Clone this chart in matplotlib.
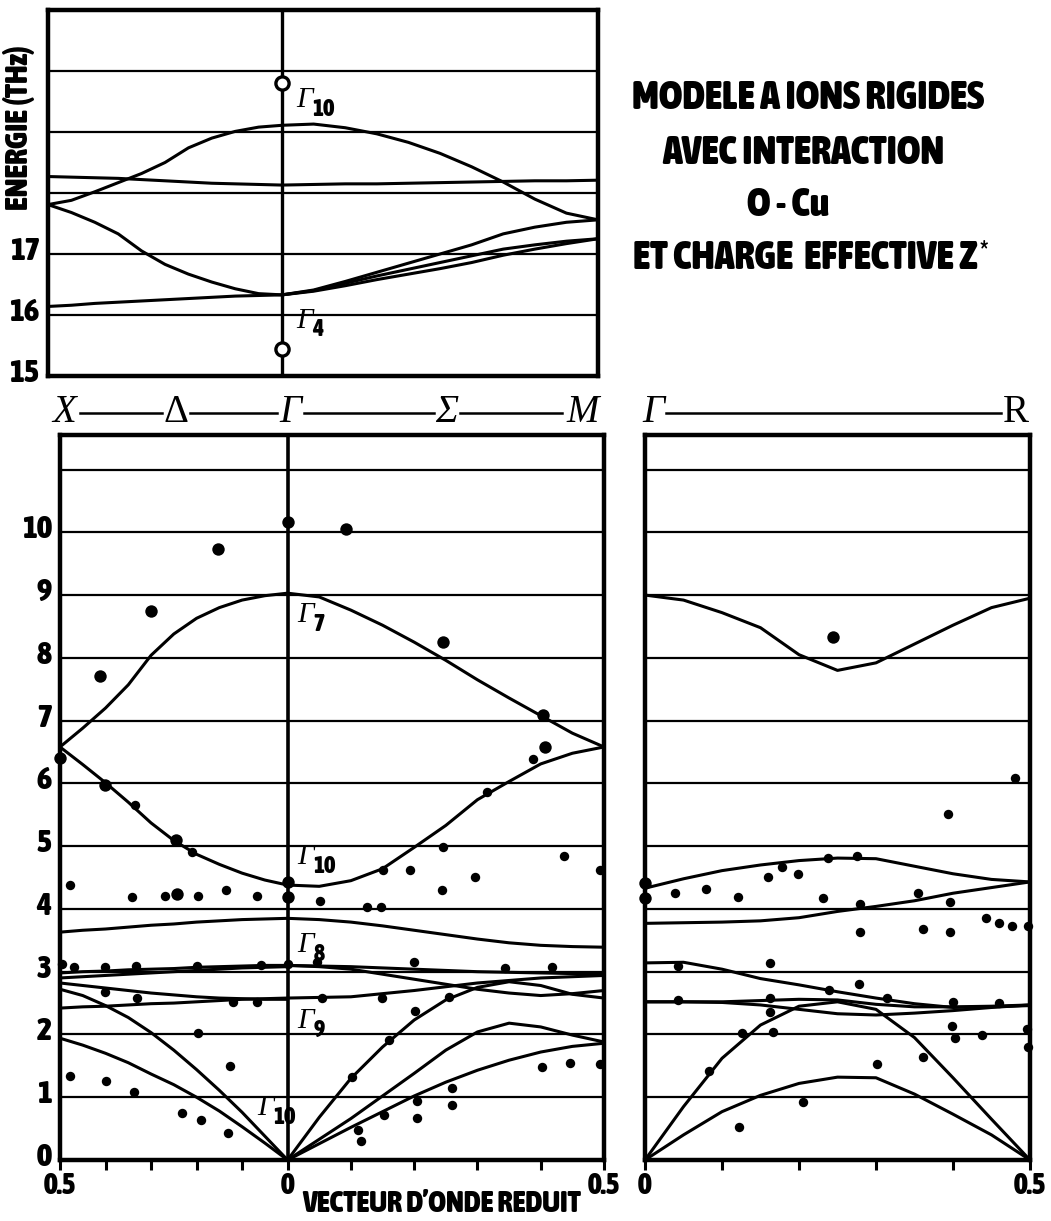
import matplotlib
matplotlib.use('Agg')
import matplotlib.pyplot as plt
from matplotlib import font_manager
from matplotlib.font_manager import FontProperties
from matplotlib.lines import Line2D
from matplotlib.transforms import ScaledTranslation

W, H = 1051, 1221

# reduced wave vector grid (0 = Gamma, 0.5 = zone boundary)
Q = [0.0, 0.05, 0.10, 0.15, 0.20, 0.25, 0.30, 0.35, 0.40, 0.45, 0.50]

# ---- top panel, 15-21 THz -------------------------------------------
top_delta_1 = [19.11, 19.08, 19.01, 18.90, 18.74, 18.50, 18.32, 18.17, 18.02, 17.88, 17.81]
top_delta_2 = [18.13, 18.14, 18.15, 18.16, 18.18, 18.20, 18.22, 18.24, 18.25, 18.26, 18.27]
top_delta_3 = [16.33, 16.35, 16.43, 16.54, 16.67, 16.83, 17.05, 17.33, 17.52, 17.68, 17.81]
top_delta_4 = [16.33, 16.32, 16.31, 16.29, 16.27, 16.25, 16.23, 16.21, 16.19, 16.16, 16.14]
top_sigma_1 = [19.11, 19.13, 19.07, 18.97, 18.83, 18.65, 18.43, 18.18, 17.90, 17.67, 17.56]
top_sigma_2 = [18.13, 18.14, 18.15, 18.15, 18.16, 18.17, 18.18, 18.19, 18.20, 18.20, 18.21]
top_sigma_3 = [16.33, 16.41, 16.55, 16.70, 16.85, 17.00, 17.15, 17.33, 17.44, 17.52, 17.56]
top_sigma_4 = [16.33, 16.40, 16.52, 16.64, 16.75, 16.86, 16.97, 17.08, 17.15, 17.21, 17.25]
top_sigma_5 = [16.33, 16.39, 16.48, 16.58, 16.67, 16.76, 16.86, 16.98, 17.08, 17.17, 17.25]
top_gamma_modes = [19.80, 15.45]          # open circles, Gamma10 and Gamma4

# ---- bottom left panel: X - Delta - Gamma - Sigma - M ---------------
delta_a = [9.03, 8.99, 8.92, 8.80, 8.63, 8.38, 8.04, 7.57, 7.20, 6.88, 6.58]
delta_b = [4.38, 4.46, 4.57, 4.71, 4.87, 5.09, 5.37, 5.70, 6.01, 6.30, 6.58]
delta_c = [3.85, 3.84, 3.83, 3.81, 3.79, 3.76, 3.74, 3.71, 3.68, 3.66, 3.63]
delta_d1 = [3.10, 3.10, 3.09, 3.08, 3.07, 3.05, 3.04, 3.03, 3.01, 3.00, 2.98]
delta_d2 = [3.08, 3.07, 3.06, 3.04, 3.02, 3.00, 2.98, 2.96, 2.94, 2.92, 2.90]
delta_d3 = [2.56, 2.56, 2.57, 2.58, 2.60, 2.63, 2.66, 2.70, 2.74, 2.78, 2.82]
delta_d4 = [2.58, 2.57, 2.56, 2.54, 2.52, 2.50, 2.49, 2.47, 2.45, 2.44, 2.42]
delta_la = [0.00, 0.38, 0.76, 1.11, 1.44, 1.75, 2.03, 2.27, 2.46, 2.62, 2.72]
delta_ta = [0.00, 0.27, 0.53, 0.78, 1.00, 1.20, 1.37, 1.55, 1.70, 1.83, 1.94]

sigma_a = [9.03, 8.97, 8.76, 8.52, 8.25, 7.96, 7.65, 7.36, 7.08, 6.80, 6.58]
sigma_b = [4.38, 4.36, 4.45, 4.64, 4.98, 5.33, 5.74, 6.03, 6.31, 6.48, 6.58]
sigma_c = [3.85, 3.83, 3.79, 3.73, 3.66, 3.59, 3.52, 3.46, 3.42, 3.40, 3.39]
sigma_s1 = [3.10, 3.09, 3.08, 3.06, 3.04, 3.02, 3.00, 2.99, 2.98, 2.97, 2.96]
sigma_s2 = [3.10, 3.08, 3.04, 2.96, 2.88, 2.80, 2.72, 2.66, 2.62, 2.65, 2.70]
sigma_s3 = [2.58, 2.59, 2.60, 2.65, 2.70, 2.76, 2.82, 2.86, 2.90, 2.92, 2.94]
sigma_s4 = [0.00, 0.68, 1.30, 1.80, 2.23, 2.55, 2.75, 2.84, 2.78, 2.64, 2.58]
sigma_s5 = [0.00, 0.33, 0.66, 1.02, 1.38, 1.75, 2.04, 2.18, 2.12, 1.99, 1.88]
sigma_s6 = [0.00, 0.26, 0.52, 0.77, 1.02, 1.24, 1.43, 1.59, 1.72, 1.81, 1.86]

# measured points (q, energy)
delta_big_q = [0.0, 0.154, 0.301, 0.413, 0.5, 0.402, 0.246, 0.244, 0.0, 0.0]
delta_big_e = [10.16, 9.73, 8.74, 7.71, 6.40, 5.97, 5.10, 4.24, 4.43, 4.19]
sigma_big_q = [0.093, 0.245, 0.404, 0.406]
sigma_big_e = [10.06, 8.25, 7.09, 6.58]
delta_small_q = [0.336, 0.209, 0.479, 0.341, 0.270, 0.196, 0.136, 0.068, 0.495, 0.470,
                 0.402, 0.332, 0.200, 0.059, 0.0, 0.402, 0.330, 0.121, 0.068, 0.196,
                 0.127, 0.477, 0.400, 0.338, 0.233, 0.191, 0.130]
delta_small_e = [5.65, 4.90, 4.38, 4.19, 4.20, 4.20, 4.30, 4.20, 3.13, 3.07,
                 3.07, 3.09, 3.09, 3.10, 3.13, 2.68, 2.58, 2.52, 2.52, 2.02,
                 1.50, 1.34, 1.26, 1.08, 0.75, 0.63, 0.43]
sigma_small_q = [0.051, 0.315, 0.388, 0.245, 0.437, 0.494, 0.150, 0.193, 0.296, 0.244,
                 0.125, 0.147, 0.046, 0.199, 0.343, 0.418, 0.055, 0.149, 0.255, 0.201,
                 0.161, 0.101, 0.402, 0.446, 0.494, 0.259, 0.259, 0.204, 0.204, 0.153,
                 0.111, 0.116]
sigma_small_e = [4.12, 5.86, 6.39, 4.98, 4.84, 4.62, 4.62, 4.62, 4.51, 4.30,
                 4.03, 4.03, 3.16, 3.16, 3.06, 3.07, 2.58, 2.58, 2.60, 2.37,
                 1.91, 1.32, 1.48, 1.55, 1.53, 1.15, 0.88, 0.94, 0.67, 0.72,
                 0.48, 0.30]

# ---- bottom right panel: Gamma - R -----------------------------------
gr_a = [9.00, 8.92, 8.72, 8.48, 8.05, 7.80, 7.92, 8.22, 8.52, 8.80, 8.95]
gr_1 = [4.33, 4.48, 4.61, 4.70, 4.77, 4.81, 4.80, 4.68, 4.56, 4.47, 4.43]
gr_2 = [3.77, 3.78, 3.79, 3.81, 3.86, 3.96, 4.04, 4.13, 4.25, 4.34, 4.43]
gr_3 = [3.14, 3.15, 3.04, 2.89, 2.79, 2.68, 2.58, 2.49, 2.43, 2.44, 2.46]
gr_4 = [2.52, 2.52, 2.51, 2.47, 2.40, 2.33, 2.31, 2.34, 2.38, 2.43, 2.47]
gr_5 = [2.52, 2.52, 2.52, 2.54, 2.56, 2.55, 2.48, 2.44, 2.44, 2.45, 2.47]
gr_6 = [0.00, 0.85, 1.62, 2.15, 2.45, 2.52, 2.40, 1.95, 1.31, 0.65, 0.00]
gr_7 = [0.00, 0.40, 0.77, 1.03, 1.22, 1.32, 1.31, 1.05, 0.73, 0.40, 0.00]

gr_big_q = [0.0, 0.0, 0.244]
gr_big_e = [4.41, 4.17, 8.33]
gr_small_q = [0.481, 0.394, 0.039, 0.079, 0.121, 0.160, 0.178, 0.199, 0.231, 0.238,
              0.275, 0.279, 0.355, 0.396, 0.279, 0.361, 0.396, 0.443, 0.460, 0.477,
              0.497, 0.043, 0.162, 0.278, 0.239, 0.314, 0.400, 0.460, 0.043, 0.162,
              0.162, 0.126, 0.166, 0.399, 0.403, 0.438, 0.496, 0.497, 0.083, 0.301,
              0.361, 0.205, 0.122]
gr_small_e = [6.08, 5.52, 4.25, 4.32, 4.19, 4.51, 4.67, 4.55, 4.17, 4.81,
              4.84, 4.08, 4.25, 4.11, 3.63, 3.68, 3.63, 3.85, 3.77, 3.73,
              3.73, 3.09, 3.14, 2.80, 2.71, 2.58, 2.52, 2.50, 2.55, 2.58,
              2.36, 2.02, 2.04, 2.13, 1.94, 1.99, 2.09, 1.80, 1.42, 1.53,
              1.64, 0.92, 0.53]

title_lines = ['MODELE A IONS RIGIDES', 'AVEC INTERACTION', 'O - Cu',
               'ET CHARGE  EFFECTIVE Z']

# Sigma direction drawn longer than Delta (sqrt(2)-ish in the original)
SIG = 1.39
SIG_TOP = 1.35

SERIF = 'Liberation Serif'

LW = 2.2
BIG, SMALL = 80, 46


def _weight(f):
    w = f.weight
    if isinstance(w, str):
        w = font_manager.weight_dict.get(w, 400)
    return w


def find_heavy_font():
    """Look for a heavy condensed face (not the extra-condensed cuts)."""
    best, best_score = None, -1
    for f in font_manager.fontManager.ttflist:
        if f.style != 'normal':
            continue
        key = (f.name + ' ' + f.fname.split('/')[-1]).lower().replace(' ', '').replace('_', '').replace('-', '')
        narrow = f.stretch in ('condensed', 'semi-condensed', 'extra-condensed',
                               'ultra-condensed') or 'narrow' in key or 'cond' in key
        if not narrow:
            continue
        score = _weight(f)
        if 'extracond' in key or 'ultracond' in key:
            score -= 350
        elif 'semicond' in key:
            score -= 150
        if score > best_score:
            best, best_score = f.fname, score
    return best


HEAVY_FILE = find_heavy_font()


def heavy(size):
    if HEAVY_FILE:
        fp = FontProperties(fname=HEAVY_FILE)
        fp.set_size(size)
        return fp
    return FontProperties(family='DejaVu Sans', weight='bold', size=size)


def fpos(x, y):
    return x / W, 1 - y / H


def fit(fig, t, target, max_size, along='w'):
    r = fig.canvas.get_renderer()
    bb = t.get_window_extent(r)
    cur = bb.width if along == 'w' else bb.height
    t.set_fontsize(min(max_size, t.get_fontsize() * target / cur))
    return t.get_fontsize()


def frame(ax):
    for sp in ax.spines.values():
        sp.set_linewidth(3.2)
    ax.yaxis.grid(True, color='black', lw=1.6)
    ax.set_axisbelow(True)
    ax.tick_params(axis='y', length=0, pad=6)
    for lab in ax.get_yticklabels():
        lab.set_fontproperties(heavy(23))
        lab.set_transform(lab.get_transform() + ScaledTranslation(0, 0.06, ax.figure.dpi_scale_trans))


def branch(ax, e_delta=None, e_sigma=None, scale=1.0):
    kw = dict(color='black', lw=LW, solid_capstyle='round', solid_joinstyle='round', zorder=3)
    if e_delta is not None:
        ax.plot([-q for q in Q], e_delta, **kw)
    if e_sigma is not None:
        ax.plot([q * scale for q in Q], e_sigma, **kw)


def dots(ax, qs, es, s, sign=1.0):
    ax.scatter([sign * q for q in qs], es, s=s, c='black', lw=0, zorder=4, clip_on=False)


def gamma_label(ax, sub, y, dx, dy):
    """Italic Gamma with a bold sans subscript, placed relative to (0, y)."""
    ax.annotate('Γ', xy=(0, y), xytext=(dx, dy), textcoords='offset pixels',
                ha='left', va='center', fontsize=21, fontfamily=SERIF, style='italic', zorder=5)
    ax.annotate(sub, xy=(0, y), xytext=(dx + 16, dy - 9), textcoords='offset pixels',
                ha='left', va='center', fontproperties=heavy(17), zorder=5)


def main():
    fig = plt.figure(figsize=(W / 100, H / 100), dpi=100)

    # ---------------- top panel ----------------
    ax_top = fig.add_axes([48 / W, 1 - 376 / H, 550 / W, 366 / H])
    ax_top.set_xlim(-0.5, 0.5 * SIG_TOP)
    ax_top.set_ylim(15, 21)
    ax_top.set_yticks([15, 16, 17, 18, 19, 20], ['15', '16', '17', '', '', ''])
    ax_top.set_xticks([])
    frame(ax_top)
    ax_top.axvline(0, color='black', lw=2.4, zorder=3)
    for ed, es in [(top_delta_1, top_sigma_1), (top_delta_2, top_sigma_2),
                   (top_delta_3, top_sigma_3), (top_delta_4, None)]:
        branch(ax_top, ed, es, SIG_TOP)
    branch(ax_top, None, top_sigma_4, SIG_TOP)
    branch(ax_top, None, top_sigma_5, SIG_TOP)
    ax_top.plot([0] * len(top_gamma_modes), top_gamma_modes, 'o', ms=9.5, mfc='white',
                mec='black', mew=2.4, zorder=5)
    gamma_label(ax_top, '10', top_gamma_modes[0], 14, -17)
    gamma_label(ax_top, '4', top_gamma_modes[1], 14, 28)

    # ---------------- bottom left panel ----------------
    ax_l = fig.add_axes([60 / W, 1 - 1160 / H, 544 / W, 725 / H])
    ax_l.set_xlim(-0.5, 0.5 * SIG)
    ax_l.set_ylim(0, 11.55)
    ax_l.set_yticks(range(12), [str(i) for i in range(11)] + [''])
    frame(ax_l)
    ax_l.axvline(0, color='black', lw=2.6, zorder=3)
    xt = [-0.5, -0.4, -0.3, -0.2, -0.1, 0.0] + [q * SIG for q in (0.1, 0.2, 0.3, 0.4, 0.5)]
    ax_l.set_xticks(xt, ['0.5', '', '', '', '', '0', '', '', '', '', '0.5'])

    for ed, es in [(delta_a, sigma_a), (delta_b, sigma_b), (delta_c, sigma_c),
                   (delta_d1, sigma_s1), (delta_d2, sigma_s2), (delta_d3, sigma_s3),
                   (delta_d4, None), (delta_la, sigma_s4), (delta_ta, sigma_s5)]:
        branch(ax_l, ed, es, SIG)
    branch(ax_l, None, sigma_s6, SIG)

    dots(ax_l, delta_big_q, delta_big_e, BIG, -1)
    dots(ax_l, delta_small_q, delta_small_e, SMALL, -1)
    dots(ax_l, sigma_big_q, sigma_big_e, BIG, SIG)
    dots(ax_l, sigma_small_q, sigma_small_e, SMALL, SIG)

    gamma_label(ax_l, '7', delta_a[0], 10, -22)
    gamma_label(ax_l, '10', delta_b[0], 10, 28)
    gamma_label(ax_l, '8', delta_c[0], 10, -27)
    gamma_label(ax_l, '9', delta_d4[0], 10, -23)
    gamma_label(ax_l, '10', 0, -30, 52)

    # ---------------- bottom right panel ----------------
    ax_r = fig.add_axes([645 / W, 1 - 1160 / H, 385 / W, 725 / H])
    ax_r.set_xlim(0, 0.5)
    ax_r.set_ylim(0, 11.55)
    ax_r.set_yticks(range(12), [''] * 12)
    frame(ax_r)
    ax_r.set_xticks([0, 0.1, 0.2, 0.3, 0.4, 0.5], ['0', '', '', '', '', '0.5'])
    for e in (gr_a, gr_1, gr_2, gr_3, gr_4, gr_5, gr_6, gr_7):
        branch(ax_r, None, e, 1.0)
    dots(ax_r, gr_big_q, gr_big_e, BIG)
    dots(ax_r, gr_small_q, gr_small_e, SMALL)

    for ax in (ax_l, ax_r):
        ax.tick_params(axis='x', direction='out', length=7, width=2.2, pad=1)
        for lab in ax.get_xticklabels():
            lab.set_fontproperties(heavy(21))

    # ---------------- symmetry point header ----------------
    hdr = dict(fontfamily=SERIF, fontsize=28, ha='center', va='center')
    for s, x, st in [('X', 64, 'italic'), ('Δ', 176, 'normal'), ('Γ', 290, 'italic'),
                     ('Σ', 447, 'italic'), ('M', 583, 'italic'), ('Γ', 653, 'italic'),
                     ('R', 1016, 'normal')]:
        fig.text(*fpos(x, 412), s, style=st, **hdr)
    for x0, x1 in [(80, 162), (190, 277), (304, 434), (460, 562), (666, 1001)]:
        fig.add_artist(Line2D([x0 / W, x1 / W], [1 - 413 / H] * 2, color='black', lw=1.8))

    # ---------------- texts ----------------
    t = fig.text(*fpos(19, 128), 'ENERGIE (THz)', rotation=90, ha='center', va='center',
                 fontproperties=heavy(20))
    fit(fig, t, 178, 23, along='h')
    t = fig.text(*fpos(302, 1204), 'VECTEUR D’ONDE REDUIT', ha='left', va='center',
                 fontproperties=heavy(20))
    fit(fig, t, 280, 23)

    title_pos = [(632, 98), (662, 153), (747, 205), (633, 258)]
    texts = [fig.text(*fpos(x, y), line, ha='left', va='center', fontproperties=heavy(26))
             for line, (x, y) in zip(title_lines, title_pos)]
    size = fit(fig, texts[0], 386, 29)
    for t in texts[1:]:
        t.set_fontsize(size)
    # superscript star after Z*
    bb = texts[3].get_window_extent(fig.canvas.get_renderer())
    fig.text((bb.x1 + 2) / W, bb.y1 / H, '*', ha='left', va='top',
             fontproperties=heavy(size * 0.7))

    fig.savefig('out.png', dpi=100, facecolor='white')


if __name__ == '__main__':
    main()
